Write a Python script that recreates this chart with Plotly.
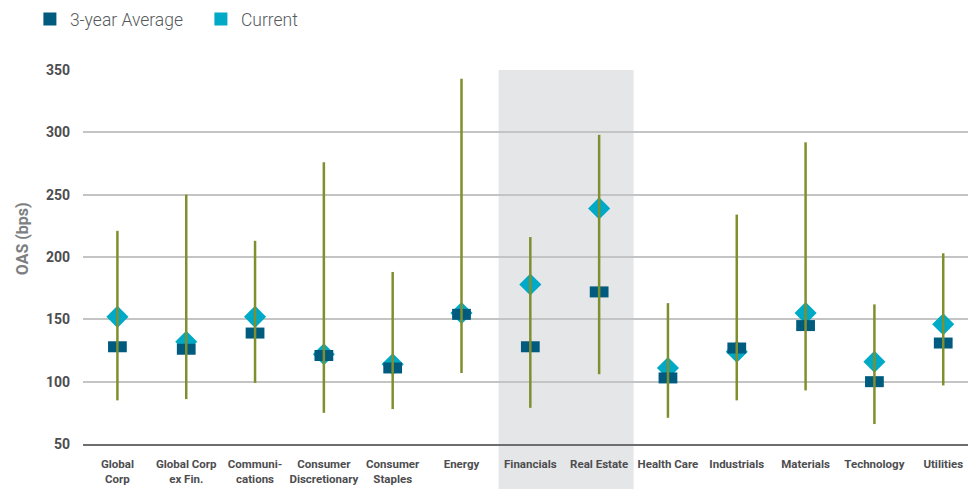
import plotly.graph_objects as go

categories = ["Global<br>Corp", "Global Corp<br>ex Fin.", "Communi-<br>cations", "Consumer<br>Discretionary",
              "Consumer<br>Staples", "Energy", "Financials", "Real Estate", "Health Care", "Industrials",
              "Materials", "Technology", "Utilities"]
range_low = [85, 86, 99, 75, 78, 107, 79, 106, 71, 85, 93, 66, 97]
range_high = [221, 250, 213, 276, 188, 343, 216, 298, 163, 234, 292, 162, 203]
avg_3yr = [128, 126, 139, 121, 111, 154, 128, 172, 103, 127, 145, 100, 131]
current = [152, 132, 152, 122, 114, 155, 178, 239, 111, 124, 155, 116, 146]
y_ticks = [50, 100, 150, 200, 250, 300, 350]

C_AVG = "#005b7f"
C_CUR = "#00a9c6"
C_LINE = "#808f2d"

line_x, line_y = [], []
for c, lo, hi in zip(categories, range_low, range_high):
    line_x += [c, c, None]
    line_y += [lo, hi, None]

fig = go.Figure()
# legend-only entries
fig.add_trace(go.Scatter(x=[categories[0]], y=[None], mode="markers", name="3-year Average",
                         marker=dict(symbol="square", size=13, color=C_AVG), hoverinfo="skip"))
fig.add_trace(go.Scatter(x=[categories[0]], y=[None], mode="markers", name="Current",
                         marker=dict(symbol="square", size=13, color=C_CUR), hoverinfo="skip"))
# actual marks
fig.add_trace(go.Scatter(x=categories, y=current, mode="markers", showlegend=False,
                         marker=dict(symbol="diamond", size=17, color=C_CUR, line=dict(width=0))))
fig.add_trace(go.Scatter(x=categories, y=avg_3yr, mode="markers", showlegend=False,
                         marker=dict(symbol="line-ew", size=13.4, color=C_AVG,
                                     line=dict(width=11, color=C_AVG))))
fig.add_trace(go.Scatter(x=line_x, y=line_y, mode="lines", showlegend=False,
                         line=dict(color=C_LINE, width=2.5)))

fig.add_shape(type="rect", xref="x", yref="paper", x0=5.54, x1=7.5, y0=-0.125, y1=1.0,
              fillcolor="#e5e6e8", line=dict(width=0), layer="below")

fig.add_annotation(text="OAS (bps)", xref="paper", yref="paper", x=-0.069, y=0.55,
                   xanchor="center", yanchor="middle", textangle=-90, showarrow=False,
                   font=dict(family="Roboto", size=16, color="#7d7f82", weight="bold"))

fig.update_layout(
    width=968, height=489,
    margin=dict(l=83, r=0, t=70, b=45, autoexpand=False),
    paper_bgcolor="white", plot_bgcolor="rgba(0,0,0,0)",
    font=dict(family="Roboto"),
    legend=dict(orientation="h", x=-0.06, xanchor="left", y=1.136, yanchor="middle",
                font=dict(family="Roboto", size=17.5, color="#555a5e", weight=300),
                entrywidth=126, bgcolor="rgba(0,0,0,0)"),
    xaxis=dict(range=[-0.5, 12.36], showgrid=False, showline=True, linecolor="#6d6e70", linewidth=2,
               ticks="", tickangle=0, automargin=False,
               tickfont=dict(family="Roboto", size=11.5, color="#4d4d4f", weight="bold"),
               ticklabelstandoff=8, fixedrange=True),
    yaxis=dict(range=[50, 350], tickvals=y_ticks, showgrid=True, gridcolor="#c4c4c4", gridwidth=1.5,
               zeroline=False, showline=False, ticks="", automargin=False,
               tickfont=dict(family="Roboto", size=14, color="#4d4d4f", weight="bold"),
               ticklabelstandoff=12, fixedrange=True),
)

fig.write_html("out.html")
